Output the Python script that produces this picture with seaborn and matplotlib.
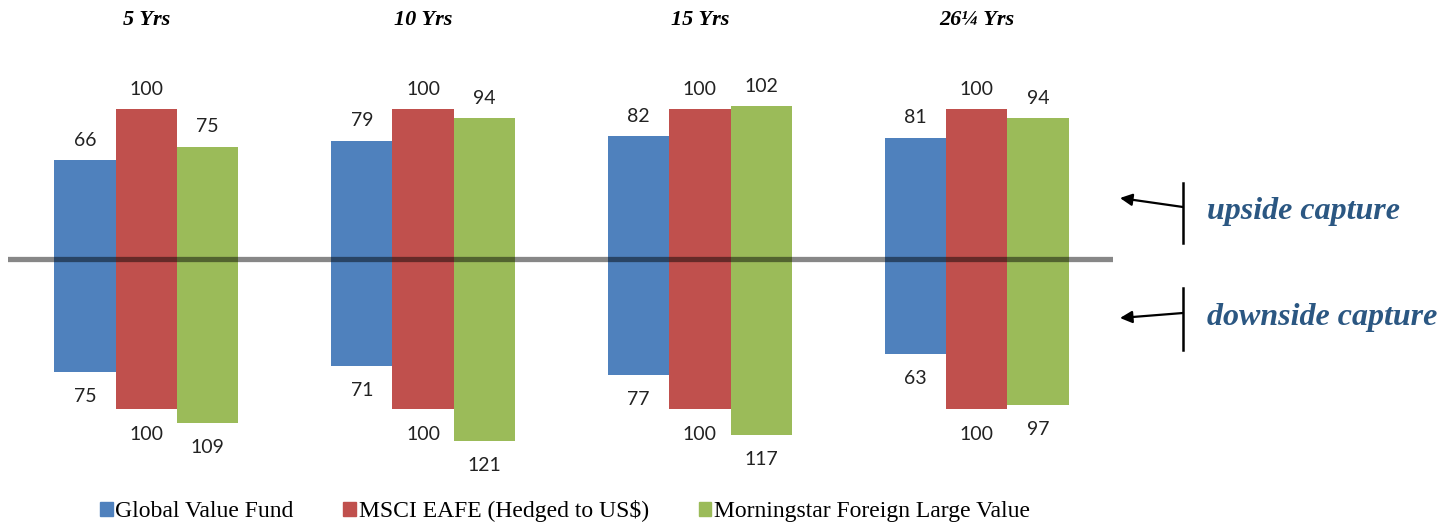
import pandas as pd
import matplotlib
matplotlib.use("Agg")
import matplotlib.pyplot as plt
from matplotlib.patches import Patch
import seaborn as sns

# data
periods = ["5 Yrs", "10 Yrs", "15 Yrs", "26\u00bc Yrs"]
series = ["Global Value Fund", "MSCI EAFE (Hedged to US$)", "Morningstar Foreign Large Value"]
upside_fund = [66, 79, 82, 81]
upside_msci = [100, 100, 100, 100]
upside_mstar = [75, 94, 102, 94]
downside_fund = [75, 71, 77, 63]
downside_msci = [100, 100, 100, 100]
downside_mstar = [109, 121, 117, 97]
colors = ["#4F81BD", "#C0504D", "#9BBB59"]

up = pd.DataFrame({
    "period": periods * 3,
    "series": [s for s in series for _ in periods],
    "value": upside_fund + upside_msci + upside_mstar,
})
down = pd.DataFrame({
    "period": periods * 3,
    "series": [s for s in series for _ in periods],
    "value": downside_fund + downside_msci + downside_mstar,
})
down["neg"] = -down["value"]

plt.rcParams["font.family"] = ["Liberation Serif", "DejaVu Serif"]

fig = plt.figure(figsize=(14.54, 5.27), dpi=100)
ax = fig.add_axes([8 / 1454, 0, 1105 / 1454, 1])

sns.barplot(data=up, x="period", y="value", hue="series", order=periods,
            hue_order=series, palette=colors, width=0.665, saturation=1,
            errorbar=None, ax=ax, legend=False)
sns.barplot(data=down, x="period", y="neg", hue="series", order=periods,
            hue_order=series, palette=colors, width=0.665, saturation=1,
            errorbar=None, ax=ax, legend=False)

# value labels (abs values), calibri-like sans
for i, cont in enumerate(ax.containers):
    vals = [abs(int(round(b.get_height()))) for b in cont]
    ax.bar_label(cont, labels=[str(v) for v in vals], padding=8 if i < 3 else 12,
                 fontsize=14, family=["Lato", "DejaVu Sans"], color="#222222")

# zero line, semi transparent over the bars
ax.axhline(0, color="black", lw=3.8, alpha=0.47, zorder=5)

ax.set_xlim(-0.5, 3.493)
ax.set_ylim(-(527 - 259) / 1.5, 259 / 1.5)
ax.axis("off")

# group titles on top
for i, p in enumerate(periods):
    ax.text(i, (259 - 20) / 1.5, p, ha="center", va="center", fontsize=16,
            fontweight="bold", fontstyle="italic")

# side annotations
blue_txt = "#2B5782"
for yv, ya, yt, ylo, yhi, label in [(207, 198, 211, 183, 243, "upside capture"),
                                     (313, 318, 317, 288, 350, "downside capture")]:
    ax.annotate("", xy=(1120, 527 - ya), xytext=(1183, 527 - yv),
                xycoords="figure pixels", textcoords="figure pixels",
                arrowprops=dict(arrowstyle="-|>", color="black", lw=1.6,
                                mutation_scale=18, shrinkA=0, shrinkB=0))
    fig.add_artist(plt.Line2D([1183 / 1454, 1183 / 1454],
                              [1 - ylo / 527, 1 - yhi / 527],
                              color="black", lw=1.8))
    fig.text(1207 / 1454, 1 - yt / 527, label, ha="left", va="center",
             fontsize=23, fontweight="bold", fontstyle="italic", color=blue_txt)

handles = [Patch(color=c, label=s) for c, s in zip(colors, series)]
fig.legend(handles=handles, loc="center", bbox_to_anchor=(565 / 1454, 1 - 511 / 527),
           ncol=3, frameon=False, fontsize=17, handlelength=0.55, handleheight=0.55,
           handletextpad=0.1, columnspacing=2.1)

fig.savefig("out.png", dpi=100)
